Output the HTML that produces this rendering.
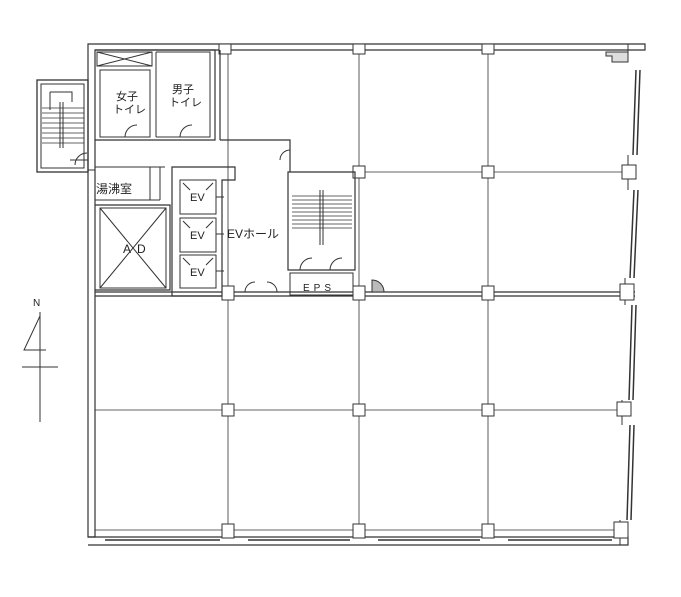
<!DOCTYPE html>
<html><head><meta charset="utf-8"><style>
body{margin:0;background:#fff;width:681px;height:597px;overflow:hidden}
svg{display:block}
text{font-family:"Liberation Sans","Noto Sans CJK JP",sans-serif;fill:#222;stroke:none}
</style></head><body>
<svg width="681" height="597" viewBox="0 0 681 597" stroke="#333" fill="none" stroke-width="1">
<path d="M88 44 H645 V50 H95 V537 H88 Z" stroke-width="1.2"/>
<path d="M88 537 H628 V545 H88" stroke-width="1.2"/>
<g stroke-width="1.5">
<path d="M636 70 L633 155 M640 70 L637 155"/>
<path d="M634 190 L630 278 M638 190 L634 278"/>
<path d="M632 305 L629 400 M636 305 L633 400"/>
<path d="M630 425 L627 520 M634 425 L631 520"/>
</g>
<path d="M628 44 V60 M628 155 V190 M625 278 V305 M622 400 V425 M620 520 V545"/>
<path d="M606 52 H628 V62 H612 V56 H606 Z" fill="#ddd"/>
<g stroke-width="1.4">
<path d="M105 540 H220 M248 540 H350 M378 540 H480 M508 540 H612"/>
</g>
<g stroke-width="0.8">
<path d="M228 50 V537 M359 50 V537 M488 50 V537"/>
<path d="M355 172 H628 M95 410 H628 M95 530 H628"/>
</g>
<path d="M95 292 H635 M95 296 H635" stroke-width="1.2"/>
<g fill="#fff" stroke-width="1">
<rect x="222" y="286" width="12" height="14"/><rect x="353" y="286" width="12" height="14"/><rect x="482" y="286" width="12" height="14"/>
<rect x="222" y="404" width="12" height="12"/><rect x="353" y="404" width="12" height="12"/><rect x="482" y="404" width="12" height="12"/><rect x="617" y="402" width="14" height="14"/>
<rect x="222" y="524" width="12" height="14"/><rect x="353" y="524" width="12" height="14"/><rect x="482" y="524" width="12" height="14"/><rect x="614" y="522" width="14" height="16"/>
<rect x="353" y="166" width="12" height="12"/><rect x="482" y="166" width="12" height="12"/><rect x="622" y="165" width="14" height="14"/>
<rect x="482" y="44" width="12" height="10"/><rect x="353" y="44" width="12" height="10"/><rect x="219" y="44" width="12" height="10"/>
<rect x="620" y="284" width="14" height="16"/>
</g>
<path d="M95 50 H215 V140 H95 M215 50 V140 M220 50 V140 M220 140 H290 V150" stroke-width="1.2"/>
<rect x="97" y="52" width="55" height="14"/>
<path d="M97 52 L152 66 M152 52 L97 66"/>
<path d="M100 70 H150 V137 H100 Z M156 52 V137 M156 52 H210 V137 H156"/>
<path d="M125 137 A12 12 0 0 1 137 125 M180 137 A12 12 0 0 1 192 125"/>
<text x="116" y="100" font-size="11">女子</text><text x="113" y="113" font-size="11">トイレ</text>
<text x="172" y="93" font-size="11">男子</text><text x="169" y="106" font-size="11">トイレ</text>
<rect x="37" y="80" width="51" height="92" stroke-width="1.3"/>
<rect x="41" y="84" width="43" height="84"/>
<g stroke-width="0.8"><path d="M42 108 H84 M42 113 H84 M42 118 H84 M42 123 H84 M42 128 H84 M42 133 H84 M42 138 H84 M42 143 H84"/></g>
<path d="M60 102 V148 M63 102 V148 M50 92 H72 V102 M50 92 V110"/>
<path d="M75 165 A12 12 0 0 1 87 153"/>
<path d="M95 167 H165 M95 200 H160 M160 167 V200 M150 167 V200"/>
<text x="96" y="193" font-size="12">湯沸室</text>
<path d="M95 205 H170 V290 H95" stroke-width="1.2"/>
<rect x="100" y="208" width="66" height="80"/>
<path d="M100 208 L166 288 M166 208 L100 288"/>
<text x="123" y="253" font-size="12" letter-spacing="6">AD</text>
<path d="M172 167 H235 V180 H222 V296 H172 Z" stroke-width="1.2"/>
<rect x="180" y="180" width="36" height="34"/><rect x="180" y="218" width="36" height="34"/><rect x="180" y="255" width="36" height="33"/>
<path d="M183 183 L190 190 M213 183 L206 190 M183 221 L190 228 M213 221 L206 228 M183 258 L190 265 M213 258 L206 265"/>
<text x="190" y="201" font-size="11">EV</text><text x="190" y="239" font-size="11">EV</text><text x="190" y="276" font-size="11">EV</text>
<path d="M216 197 H224 M216 234 H224 M216 271 H224"/>
<text x="227" y="238" font-size="12">EVホール</text>
<path d="M245 292 A10 10 0 0 1 255 282 M277 292 A10 10 0 0 0 267 282"/>
<path d="M290 150 V172 M288 172 H355 V270 H288 Z" stroke-width="1.2"/>
<path d="M290 150 A10 10 0 0 0 280 160"/>
<g stroke-width="0.8"><path d="M292 196 H352 M292 200 H352 M292 204 H352 M292 208 H352 M292 212 H352 M292 216 H352 M292 220 H352 M292 224 H352 M292 228 H352"/></g>
<path d="M320 190 V245 M323 190 V245"/>
<path d="M300 270 A12 12 0 0 1 312 258 M330 270 A12 12 0 0 1 342 258"/>
<rect x="290" y="273" width="63" height="22"/>
<text x="303" y="291" font-size="10" letter-spacing="4">EPS</text>
<path d="M372 292 V280 A12 12 0 0 1 384 292 Z" fill="#bbb"/>
<path d="M88 170 H95 M70 160 H88"/>
<text x="33" y="306" font-size="10">N</text>
<path d="M40 312 V422 M22 367 H58 M40 316 L24 350 H46"/>
</svg>
</body></html>
